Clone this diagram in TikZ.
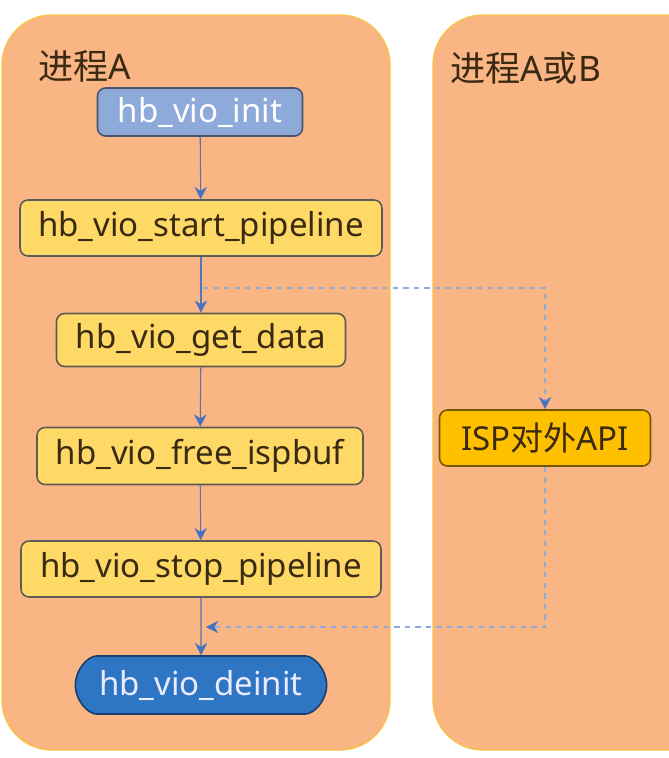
\documentclass[tikz,border=0pt]{standalone}
\usepackage{fontspec}
\setmainfont{Noto Sans}
\newfontfamily\cjk{Noto Sans CJK SC}
\usetikzlibrary{shapes.misc,arrows.meta}

\definecolor{panelfill}{HTML}{F9B583}
\definecolor{paneledge}{HTML}{F8C34A}
\definecolor{funcfill}{HTML}{FFD966}
\definecolor{initfill}{HTML}{8EAADB}
\definecolor{deinitfill}{HTML}{2E75C4}
\definecolor{ispfill}{HTML}{FFC000}
\definecolor{edgegray}{HTML}{5F5A55}
\definecolor{txtdark}{HTML}{3A2A12}
\definecolor{flowblue}{HTML}{4472C4}
\definecolor{dashblue}{HTML}{8FAADC}

\begin{document}
\begin{tikzpicture}[x=0.02cm,y=-0.02cm,>={Stealth[length=7pt,width=7pt,color=flowblue]},
  panel/.style={fill=panelfill,draw=paneledge,line width=0.8pt,rounded corners=1cm},
  func/.style={draw=edgegray,line width=0.9pt,rounded corners=0.16cm,fill=funcfill,
    text=txtdark,minimum height=1.12cm,font=\fontsize{18.8}{22}\selectfont},
  flow/.style={->,draw=flowblue!70!gray,line width=0.6pt},
  link/.style={->,draw=dashblue,dashed,line width=0.6pt}]
  \useasboundingbox (0,0) rectangle (669,758);
  \clip (0,0) rectangle (669,758);

  % Prozesse
  \draw[panel] (2,15) rectangle (390,750);
  \draw[panel] (433,15) rectangle (720,750);
  \node[anchor=west,text=txtdark,font=\fontsize{20}{24}\selectfont] (procA) at (32,66) {{\cjk 进程}A};
  \node[anchor=west,text=txtdark,font=\fontsize{20}{24}\selectfont] (procAB) at (444,68) {{\cjk 进程}A{\cjk 或}B};

  % Funktionen
  \node[func,fill=initfill,text=white,draw=initfill!50!black,minimum width=4.1cm,minimum height=0.96cm] (init) at (200,112) {hb\_vio\_init};
  \node[func,minimum width=7.24cm] (start) at (201,228) {hb\_vio\_start\_pipeline};
  \node[func,minimum width=5.78cm,minimum height=1.06cm] (getdata) at (201,340) {hb\_vio\_get\_data};
  \node[func,minimum width=6.52cm,minimum height=1.14cm] (freebuf) at (200,456) {hb\_vio\_free\_ispbuf};
  \node[func,minimum width=7.2cm] (stop) at (201,569) {hb\_vio\_stop\_pipeline};
  \node[func,rounded rectangle,fill=deinitfill,draw=deinitfill!55!black,text=white!92!blue,
    minimum width=5.26cm,minimum height=1.16cm] (deinit) at (201,685) {hb\_vio\_deinit};
  \node[func,fill=ispfill,draw=ispfill!45!black,minimum width=4.22cm] (isp) at (545,438) {ISP{\cjk 对外}API};

  % Ablauf
  \draw[flow] (init) -- (start);
  \draw[flow] (start) -- (getdata);
  \draw[flow] (getdata) -- (freebuf);
  \draw[flow] (freebuf) -- (stop);
  \draw[flow] (stop) -- (deinit);

  % ISP
  \coordinate (split) at (203,288);
  \coordinate (join) at (206,627);
  \draw[link] (split) -| (isp.north);
  \draw[link] (isp.south) |- (join);
\end{tikzpicture}
\end{document}
